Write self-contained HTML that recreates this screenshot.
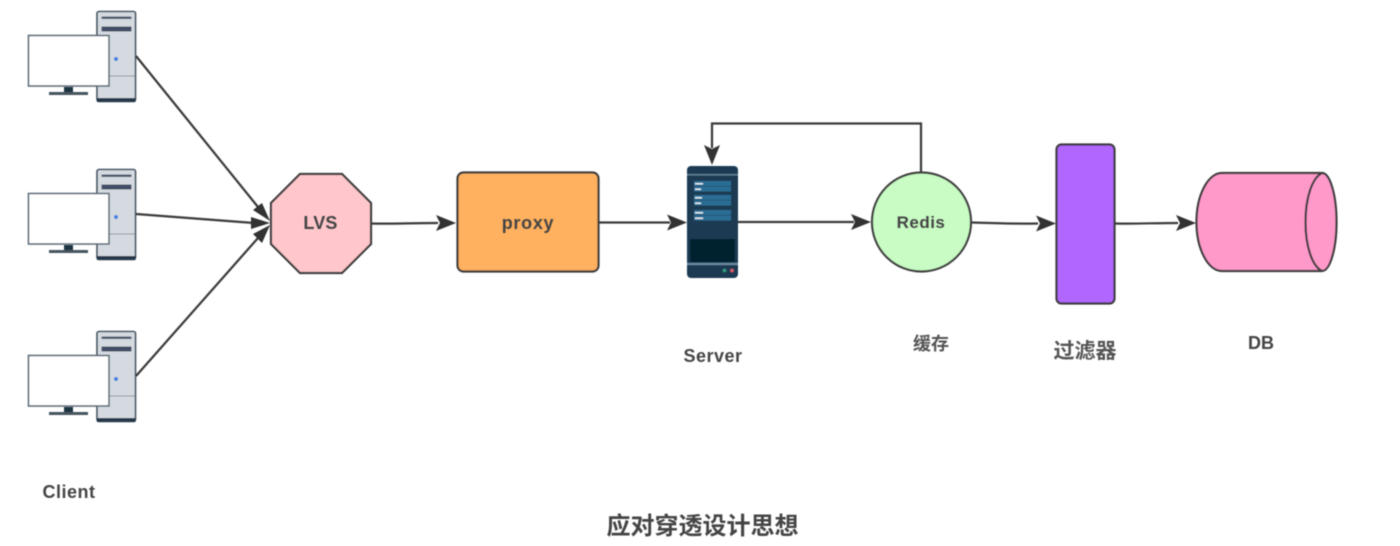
<!DOCTYPE html>
<html>
<head>
<meta charset="utf-8">
<style>
html,body{margin:0;padding:0;background:#fff;width:1400px;height:546px;overflow:hidden}
svg{display:block}
text{font-family:"Liberation Sans","Noto Sans CJK SC",sans-serif;font-weight:bold;fill:#444;text-anchor:middle}
.c{font-weight:bold;fill:#555}
</style>
</head>
<body>
<svg width="1400" height="546" viewBox="0 0 1400 546" xmlns="http://www.w3.org/2000/svg">
<defs>
<filter id="b" x="-5%" y="-5%" width="110%" height="110%"><feGaussianBlur stdDeviation="0.5"/></filter>
<filter id="t" x="-5%" y="-5%" width="110%" height="110%"><feGaussianBlur stdDeviation="0.55"/></filter>
<g id="pc">
  <rect x="97" y="11.500" width="38.500" height="90" rx="2" fill="#d5dae0" stroke="#3e4f5f" stroke-width="1.600"/>
  <rect x="97" y="98" width="38.500" height="4" fill="#25394a"/>
  <rect x="101.500" y="16.500" width="30" height="2.500" fill="#4a5a6c"/>
  <rect x="101.500" y="26.500" width="30" height="5" fill="#3f4f66"/>
  <line x1="97" y1="76" x2="135" y2="76" stroke="#8c98a4" stroke-width="1"/>
  <circle cx="116" cy="59" r="2" fill="#3f7fe0"/>
  <rect x="28.500" y="35.500" width="80.500" height="50.500" fill="#fff" stroke="#5c6b78" stroke-width="1.600"/>
  <rect x="64" y="87" width="9" height="6" fill="#1f3542"/>
  <rect x="49" y="92" width="39" height="3" fill="#46555f"/>
</g>
</defs>
<g filter="url(#b)">
<use href="#pc"/>
<use href="#pc" y="158"/>
<use href="#pc" y="320"/>

<g fill="none" stroke="#3a3a3a" stroke-width="2.200">
  <line x1="136" y1="56" x2="258" y2="207"/>
  <line x1="136" y1="214" x2="254" y2="223"/>
  <line x1="136" y1="376" x2="258" y2="238"/>
  <path d="M371 223.500 C395 224 410 223 438 223"/>
  <line x1="599" y1="222.500" x2="670" y2="222.500"/>
  <line x1="738" y1="222" x2="854" y2="222"/>
  <path d="M921 172 V123.500 H712 V148"/>
  <path d="M972 222.500 C995 223 1010 224 1038 223.500"/>
  <path d="M1115 223.500 C1135 224 1155 223 1178 223"/>
</g>
<g fill="#333">
  <polygon points="270,221 253,210 262,203"/>
  <polygon points="270,223 251,217 251,229"/>
  <polygon points="270,225 253,234 262,243"/>
  <polygon points="456,223 436,215 440,223 436,231"/>
  <polygon points="687,222.500 667,214.500 671,222.500 667,230.500"/>
  <polygon points="712,165 704,145 712,149 720,145"/>
  <polygon points="871,222 851,214 855,222 851,230"/>
  <polygon points="1056,223.500 1036,215.500 1040,223.500 1036,231.500"/>
  <polygon points="1196,223 1176,215 1180,223 1176,231"/>
</g>

<polygon points="300,174 342,174 371,203 371,244 342,273 300,273 271,244 271,203" fill="#ffc7cb" stroke="#3d3d3d" stroke-width="2.200"/>
<rect x="457.500" y="172.500" width="141" height="99" rx="6" fill="#ffb15f" stroke="#3d3d3d" stroke-width="2.200"/>

<rect x="687" y="166" width="51" height="112" rx="4" fill="#1b3b52"/>
<rect x="687" y="174" width="51" height="1.500" fill="#5d7f92"/>
<rect x="694" y="181" width="37" height="5" fill="#2b6d94"/>
<rect x="694" y="186.500" width="37" height="5" fill="#2b6d94"/>
<rect x="694" y="195" width="37" height="5" fill="#2b6d94"/>
<rect x="694" y="200.500" width="37" height="5" fill="#2b6d94"/>
<rect x="694" y="210" width="37" height="5" fill="#2b6d94"/>
<rect x="694" y="215.500" width="37" height="5" fill="#2b6d94"/>
<g fill="#dfe9ef">
  <rect x="695" y="183" width="8" height="1.500"/>
  <rect x="695" y="188.500" width="6" height="1.500"/>
  <rect x="695" y="197" width="7" height="1.500"/>
  <rect x="695" y="202.500" width="6" height="1.500"/>
  <rect x="695" y="212" width="8" height="1.500"/>
  <rect x="695" y="217.500" width="8" height="1.500"/>
</g>
<rect x="690" y="239" width="45" height="23" fill="#05202f"/>
<rect x="687" y="263" width="51" height="2" fill="#6a8ba0"/>
<circle cx="724.500" cy="270.500" r="1.800" fill="#2f9d7e"/>
<circle cx="732" cy="270.500" r="1.800" fill="#d85a6a"/>

<circle cx="921.500" cy="222" r="49.500" fill="#c8fcc4" stroke="#3d3d3d" stroke-width="2.200"/>
<rect x="1056.500" y="144.500" width="58" height="159" rx="5" fill="#b166ff" stroke="#3d3d3d" stroke-width="2.200"/>

<path d="M1222 173 H1322 C1330 173 1336.500 195 1336.500 222 C1336.500 249 1330 271 1322 271 H1222 C1208 271 1196.500 249 1196.500 222 C1196.500 195 1208 173 1222 173 Z" fill="#ff99c9" stroke="#3d3d3d" stroke-width="2.200"/>
<path d="M1322 173 C1312 178 1305.500 198 1305.500 222 C1305.500 246 1312 266 1322 271" fill="none" stroke="#3d3d3d" stroke-width="2.200"/>
</g>
<g filter="url(#t)">
<text x="320.500" y="229" font-size="18" letter-spacing="0.2">LVS</text>
<text x="528" y="229" font-size="18" letter-spacing="0.7">proxy</text>
<text x="921" y="228" font-size="17" letter-spacing="0.5">Redis</text>
<text x="713" y="362" font-size="18" letter-spacing="0.5">Server</text>
<text class="c" x="931" y="350" font-size="18">缓存</text>
<text class="c" x="1085" y="358" font-size="21">过滤器</text>
<text x="1261" y="349" font-size="18">DB</text>
<text x="69" y="498" font-size="18" letter-spacing="0.5">Client</text>
<text x="702.500" y="534" font-size="24">应对穿透设计思想</text>
</g>
</svg>
</body>
</html>
